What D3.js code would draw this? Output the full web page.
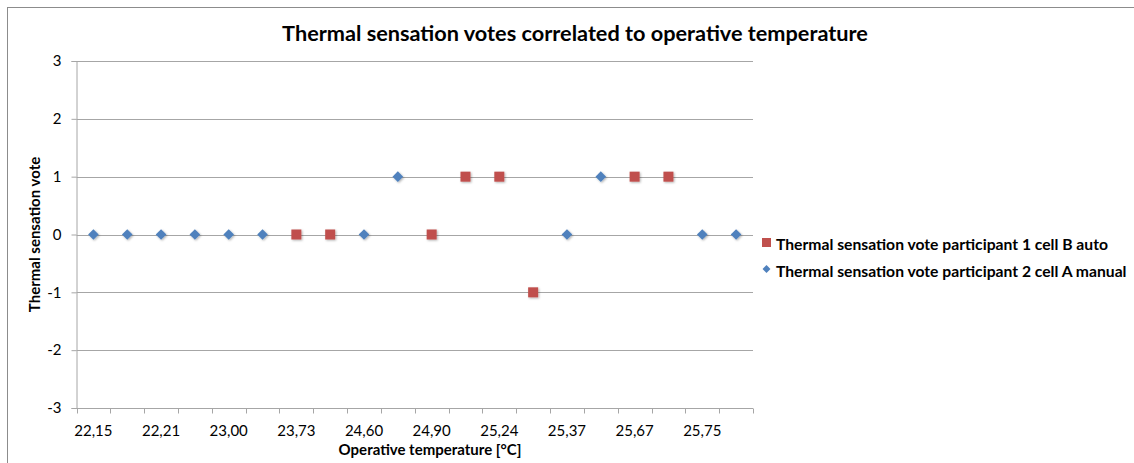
<!DOCTYPE html>
<html>
<head>
<meta charset="utf-8">
<script src="https://cdn.jsdelivr.net/npm/d3@7"></script>
<style>
html,body{margin:0;padding:0;background:#fff;}
svg{display:block;}
text{font-family:Lato,"Liberation Sans",sans-serif;fill:#000;}
</style>
</head>
<body>
<svg id="chart" width="1134" height="463"></svg>
<script>
// Category labels (odd entries are not printed on the axis; estimated)
const categories = ["22,15","22,18","22,21","22,60","23,00","23,40","23,73","24,20","24,60","24,75",
                    "24,90","25,10","25,24","25,30","25,37","25,50","25,67","25,70","25,75","25,80"];
// Series values per category (null = no point)
const seriesB = [null,null,null,null,null,null,0,0,null,null,0,1,1,-1,null,null,1,1,null,null];
const seriesA = [0,0,0,0,0,0,null,null,0,1,null,null,null,null,0,1,null,null,0,0];
const yTicks = [-3,-2,-1,0,1,2,3];
const seriesNames = ["Thermal sensation vote participant 1 cell B auto",
                     "Thermal sensation vote participant 2 cell A manual"];
const colors = ["#C0504D","#4F81BD"];

const svg = d3.select("#chart");
const pL = 76.5, pR = 753, pT = 61, pB = 408;

// outer border
svg.append("rect").attr("x",7.5).attr("y",7.5).attr("width",1140).attr("height",470)
  .attr("fill","none").attr("stroke","#8c8c8c").attr("stroke-width",1);

const x = d3.scaleBand().domain(categories.map((d,i)=>i)).range([pL,pR]).padding(0);
const y = d3.scaleLinear().domain([-3,3]).range([pB,pT]);

// gridlines
svg.append("g").selectAll("line").data(yTicks.filter(d=>d!==-3)).join("line")
  .attr("x1",pL).attr("x2",pR)
  .attr("y1",d=>Math.round(y(d))+0.5).attr("y2",d=>Math.round(y(d))+0.5)
  .attr("stroke","#a6a6a6").attr("stroke-width",1);

// y axis
const yAxis = d3.axisLeft(y).tickValues(yTicks).tickSize(5).tickPadding(10).tickFormat(d3.format("d"));
const gy = svg.append("g").attr("transform",`translate(${pL},0)`).call(yAxis);
gy.select(".domain").attr("stroke","#a6a6a6");
gy.selectAll(".tick line").attr("stroke","#a6a6a6");
gy.selectAll("text").attr("font-size",15).attr("font-family","Lato, sans-serif").attr("fill","#000")
  .text(d=>d<0 ? "-"+Math.abs(d) : d);

// x axis: ticks at category boundaries
const xb = d3.scaleLinear().domain([0,categories.length]).range([pL,pR]);
const gx = svg.append("g").attr("transform",`translate(0,${pB+0.5})`);
gx.append("line").attr("x1",pL).attr("x2",pR).attr("stroke","#a6a6a6");
gx.selectAll("line.t").data(d3.range(categories.length+1)).join("line").attr("class","t")
  .attr("x1",d=>Math.round(xb(d))+0.5).attr("x2",d=>Math.round(xb(d))+0.5)
  .attr("y1",0).attr("y2",5).attr("stroke","#a6a6a6");
gx.selectAll("text").data(categories.map((c,i)=>({c,i})).filter(d=>d.i%2===0)).join("text")
  .attr("x",d=>x(d.i)+x.bandwidth()/2).attr("y",27)
  .attr("text-anchor","middle").attr("font-size",15).text(d=>d.c);

// markers
const cx = i => x(i)+x.bandwidth()/2;
const shadow = svg.append("defs").append("filter").attr("id","sh")
  .attr("x","-50%").attr("y","-50%").attr("width","200%").attr("height","200%");
shadow.append("feDropShadow").attr("dx",1).attr("dy",1).attr("stdDeviation",0.8)
  .attr("flood-color","#000").attr("flood-opacity",0.3);

svg.append("g").selectAll("path").data(seriesA.map((v,i)=>({v,i})).filter(d=>d.v!==null)).join("path")
  .attr("d",d3.symbol(d3.symbolDiamond2, 72))
  .attr("transform",d=>`translate(${cx(d.i)},${y(d.v)})`)
  .attr("fill",colors[1]).attr("filter","url(#sh)");
svg.append("g").selectAll("rect").data(seriesB.map((v,i)=>({v,i})).filter(d=>d.v!==null)).join("rect")
  .attr("x",d=>cx(d.i)-5).attr("y",d=>y(d.v)-5).attr("width",10).attr("height",10)
  .attr("fill",colors[0]).attr("filter","url(#sh)");

// title
svg.append("text").attr("x",575).attr("y",41).attr("text-anchor","middle")
  .attr("font-size",21.7).attr("font-weight","bold").text("Thermal sensation votes correlated to operative temperature");
// x title
svg.append("text").attr("x",430).attr("y",455).attr("text-anchor","middle")
  .attr("font-size",15).attr("font-weight","bold").text("Operative temperature [°C]");
// y title
svg.append("text").attr("transform",`translate(40,${(pT+pB)/2}) rotate(-90)`).attr("text-anchor","middle")
  .attr("font-size",15).attr("font-weight","bold").text("Thermal sensation vote");

// legend
const lg = svg.append("g");
lg.append("rect").attr("x",762).attr("y",238).attr("width",9).attr("height",9).attr("fill",colors[0]);
lg.append("path").attr("d",d3.symbol(d3.symbolDiamond2, 40)).attr("transform","translate(766.5,269)").attr("fill",colors[1]);
lg.selectAll("text").data(seriesNames).join("text")
  .attr("x",776).attr("y",(d,i)=>250+i*27).attr("font-size",15.7).attr("font-weight","bold").text(d=>d);
</script>
</body>
</html>
